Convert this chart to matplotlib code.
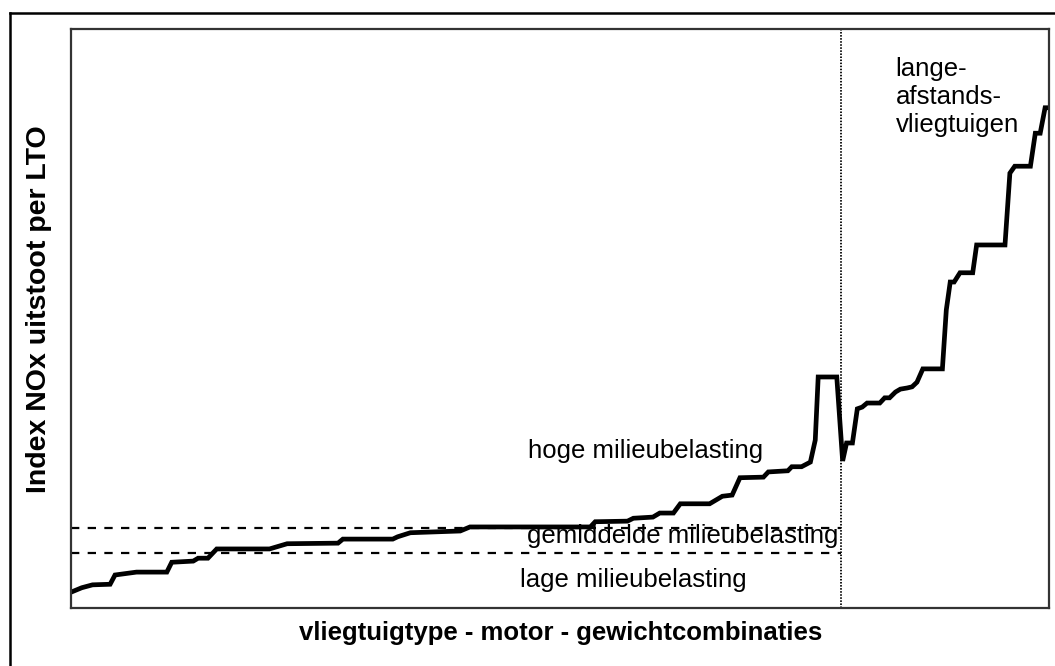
import matplotlib.pyplot as plt
from matplotlib.lines import Line2D

plt.rcParams['font.family'] = ['Liberation Sans', 'DejaVu Sans']
plt.rcParams['lines.scale_dashes'] = False

# combinaties (gesorteerd) en NOx index
combi = [0.1, 1.1, 2.2, 4.0, 4.5, 6.7, 9.8, 10.3, 12.5, 13.0, 14.0, 14.9, 20.3, 20.9,
         22.1, 27.3, 27.8, 32.9, 33.4, 34.7, 39.8, 40.8, 53.1, 53.6, 56.9, 57.5, 59.5,
         60.2, 61.6, 62.3, 65.3, 66.6, 67.6, 68.4, 70.8, 71.3, 73.3, 73.7, 74.7, 75.6,
         76.1, 76.4, 78.3, 78.9, 79.3, 79.9, 80.4, 80.9, 81.4, 82.7, 83.2, 83.7, 84.3,
         84.8, 85.5, 86.0, 86.5, 87.1, 89.1, 89.5, 89.9, 90.3, 90.9, 92.2, 92.6, 95.5,
         96.0, 96.5, 98.1, 98.6, 99.1, 99.6, 100.0]
nox = [2.8, 3.5, 4.0, 4.1, 5.7, 6.2, 6.2, 7.9, 8.1, 8.6, 8.6, 10.2, 10.2, 10.5,
       11.1, 11.2, 11.9, 11.9, 12.3, 13.0, 13.3, 14.0, 14.0, 14.9, 15.0, 15.5, 15.7,
       16.4, 16.4, 18.0, 18.0, 19.3, 19.5, 22.5, 22.6, 23.5, 23.7, 24.4, 24.4, 25.2,
       29.0, 39.9, 39.9, 25.4, 28.5, 28.5, 34.4, 34.7, 35.4, 35.4, 36.3, 36.3, 37.3,
       37.8, 38.0, 38.2, 39.0, 41.3, 41.3, 51.5, 56.3, 56.3, 57.9, 57.9, 62.7, 62.7,
       75.1, 76.3, 76.3, 82.0, 82.0, 86.4, 86.4]

grens_hoog = 13.8   # gemiddeld / hoog
grens_laag = 9.5    # laag / gemiddeld
grens_lang = 78.7   # lange-afstandsvliegtuigen

W, H = 1055, 666
fig = plt.figure(figsize=(W / 100, H / 100), dpi=100)
ax = fig.add_axes([71 / W, (H - 608) / H, 978 / W, 579 / H])

ax.plot(combi, nox, color='black', lw=3.4, solid_joinstyle='miter')
ax.hlines([grens_hoog, grens_laag], 0, grens_lang, colors='black', lw=1.6,
          linestyles=[(0, (6, 6))])
ax.axvline(grens_lang, color='black', lw=1.3, linestyle=(0, (1.1, 1.1)))

ax.set_xlim(0, 100)
ax.set_ylim(0, 100)
ax.set_xticks([])
ax.set_yticks([])
for s in ax.spines.values():
    s.set_linewidth(1.6)
    s.set_color('#333333')

fs = 18.5
ax.text(46.7, 25.9, 'hoge milieubelasting', fontsize=fs, va='baseline')
ax.text(46.6, 11.2, 'gemiddelde milieubelasting', fontsize=fs, va='baseline')
ax.text(45.9, 3.6, 'lage milieubelasting', fontsize=fs, va='baseline')
for i, t in enumerate(['lange-', 'afstands-', 'vliegtuigen']):
    ax.text(84.3, 91.8 - i * 4.8, t, fontsize=fs, va='baseline')

fig.text(561 / W, 1 - 640 / H, 'vliegtuigtype - motor - gewichtcombinaties',
         fontsize=fs, fontweight='bold', ha='center', va='baseline')
fig.text(39 / W, 1 - 309 / H, 'Index NOx uitstoot per LTO', fontsize=20.5,
         fontweight='bold', rotation=90, ha='center', va='center')

# buitenrand (links en boven)
fig.add_artist(Line2D([9.5 / W, 9.5 / W], [0, 1 - 12.5 / H], color='black', lw=1.8,
                      transform=fig.transFigure))
fig.add_artist(Line2D([9.5 / W, 1], [1 - 12.5 / H, 1 - 12.5 / H], color='black', lw=1.8,
                      transform=fig.transFigure))

fig.savefig('out.png', dpi=100)
